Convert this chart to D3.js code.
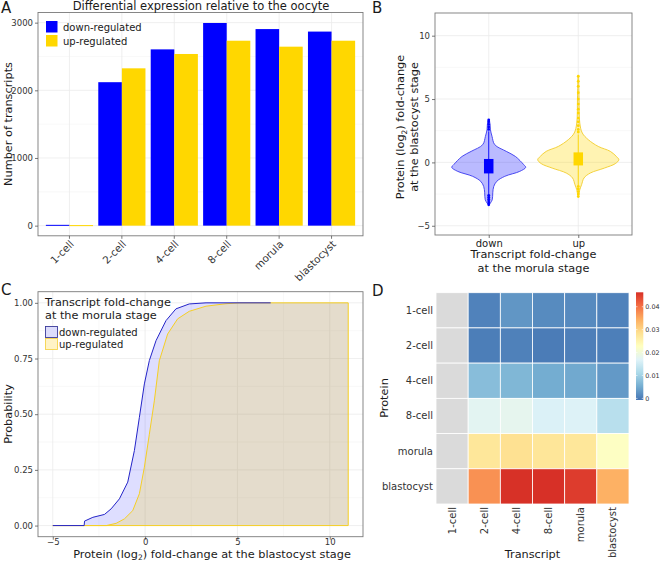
<!DOCTYPE html>
<meta charset="utf-8">
<head>
<style>
  body { margin: 0; background: #fff; }
  text { font-family: "DejaVu Sans", sans-serif; fill: #1a1a1a; }
  .tick-label { fill: #333; }
  .grid-major { stroke: #ebebeb; stroke-width: 0.8; }
  .grid-minor { stroke: #f4f4f4; stroke-width: 0.6; }
  .border { fill: none; stroke: #7a7a7a; stroke-width: 0.9; }
</style>
<script src="https://d3js.org/d3.v7.min.js"></script>
</head>
<body>
<div id="chart"></div>
<script>
// *** Data
var stages = ["1-cell", "2-cell", "4-cell", "8-cell", "morula", "blastocyst"];
var regulation = ["down-regulated", "up-regulated"];
var downCounts = [12, 2120, 2605, 2995, 2905, 2868];
var upCounts = [8, 2325, 2537, 2733, 2645, 2733];
var countTicks = [0, 1000, 2000, 3000];
var countMinor = [500, 1500, 2500];

// panel B: violin outlines (value, half width as fraction of a category step)
var groups = ["down", "up"];
var violinDownY = [3.37, 3.0, 2.58, 2.05, 1.4, 0.87, 0.47, -0.18, -0.39, -0.71, -1.1, -1.5, -1.9, -2.4, -2.95, -3.34];
var violinDownW = [0.005, 0.015, 0.019, 0.037, 0.067, 0.196, 0.298, 0.391, 0.413, 0.346, 0.179, 0.089, 0.056, 0.045, 0.039, 0.005];
var violinUpY = [6.8, 5.0, 3.1, 2.32, 1.79, 1.26, 0.87, 0.47, 0.21, -0.1, -0.45, -0.84, -1.23, -1.76, -2.16, -2.7];
var violinUpW = [0.004, 0.009, 0.017, 0.045, 0.112, 0.223, 0.358, 0.425, 0.453, 0.413, 0.291, 0.134, 0.064, 0.037, 0.017, 0.004];
var boxLow = [-0.87, -0.24];
var boxHigh = [0.27, 0.79];
var whiskerLow = [-2.55, -1.8];
var whiskerHigh = [2.45, 2.2];
var outliersDown = [2.6, 2.8, 3.0, 3.2, 3.35, -2.6, -2.75, -2.9, -3.05, -3.2, -3.35];
var outliersUp = [2.4, 2.6, 2.9, 3.2, 3.5, 3.9, 4.2, 4.6, 5.0, 5.5, 6.0, 6.4, 6.8, -1.9, -2.1, -2.3, -2.5, -2.7];
var foldTicks = [-5, 0, 5, 10];
var foldMinor = [-2.5, 2.5, 7.5];

// panel C: cumulative distributions
var ecdfDownX = [-5, -3.3, -3.28, -2.83, -2.2, -1.84, -1.39, -0.94, -0.58, -0.31, -0.04, 0.23, 0.59, 1.13, 1.67, 2.39, 3.3, 6.8];
var ecdfDownP = [0, 0, 0.02, 0.037, 0.05, 0.075, 0.12, 0.195, 0.337, 0.486, 0.636, 0.741, 0.83, 0.92, 0.973, 0.995, 1.0, 1.0];
var ecdfUpX = [-5, -2.1, -1.57, -1.12, -0.67, -0.31, -0.04, 0.23, 0.5, 0.77, 1.22, 1.76, 2.39, 3.3, 4.38, 5.1, 11];
var ecdfUpP = [0, 0, 0.01, 0.03, 0.067, 0.143, 0.262, 0.41, 0.56, 0.74, 0.86, 0.928, 0.962, 0.985, 0.996, 1.0, 1.0];
var probTicks = [0, 0.25, 0.5, 0.75, 1];
var probMinor = [0.125, 0.375, 0.625, 0.875];

// panel D: heatmap (rows = protein, cols = transcript), null = NA
var heatValues = [
  [null, 0.0007, 0.0028, 0.0016, 0.0015, 0.0007],
  [null, 0.0002, 0.0006, 0.0000, 0.0004, 0.0003],
  [null, 0.0073, 0.0065, 0.0052, 0.0048, 0.0031],
  [null, 0.0175, 0.0180, 0.0164, 0.0166, 0.0125],
  [null, 0.0274, 0.0284, 0.0276, 0.0274, 0.0224],
  [null, 0.0372, 0.0462, 0.0463, 0.0451, 0.0342]
];
var legendTicks = [0, 0.01, 0.02, 0.03, 0.04];
var rdylbu = ["#4575b4", "#74add1", "#abd9e9", "#e0f3f8", "#ffffbf", "#fee090", "#fdae61", "#f46d43", "#d73027"];

var blue = "#0000ff", gold = "#ffd700";
var titleSize = "11.3px";

var svg = d3.select("#chart").append("svg")
  .attr("width", 660)
  .attr("height", 562);

function panelLabel(t, x, y) {
  svg.append("text").attr("x", x).attr("y", y).style("font-size", "15px").text(t);
}

// *** A: bar chart
var ax = d3.scaleBand().domain(stages).range([38, 363]).paddingInner(0.1).paddingOuter(0.15);
var axInner = d3.scaleBand().domain(regulation).range([0, ax.bandwidth()]);
var ay = d3.scaleLinear().domain([-150, 3150]).range([235.8, 12.5]);

var gA = svg.append("g");
gA.selectAll(".gm").data(countMinor).enter().append("line").attr("class", "grid-minor")
  .attr("x1", 38).attr("x2", 363).attr("y1", ay).attr("y2", ay);
gA.selectAll(".gM").data(countTicks).enter().append("line").attr("class", "grid-major")
  .attr("x1", 38).attr("x2", 363).attr("y1", ay).attr("y2", ay);
gA.selectAll(".gx").data(stages).enter().append("line").attr("class", "grid-major")
  .attr("x1", function(d) { return ax(d) + ax.bandwidth() / 2; })
  .attr("x2", function(d) { return ax(d) + ax.bandwidth() / 2; })
  .attr("y1", 12.5).attr("y2", 235.8);

var barData = [];
stages.forEach(function(s, i) {
  barData.push({stage: s, reg: regulation[0], v: downCounts[i]});
  barData.push({stage: s, reg: regulation[1], v: upCounts[i]});
});
gA.selectAll(".bar").data(barData).enter().append("rect")
  .attr("x", function(d) { return ax(d.stage) + axInner(d.reg); })
  .attr("width", axInner.bandwidth())
  .attr("y", function(d) { return ay(d.v); })
  .attr("height", function(d) { return Math.max(1, ay(0) - ay(d.v)); })
  .style("fill", function(d) { return d.reg == regulation[0] ? blue : gold; });

gA.append("rect").attr("class", "border").attr("x", 38).attr("y", 12.5).attr("width", 325).attr("height", 223.3);
gA.append("g").attr("transform", "translate(38,0)")
  .call(d3.axisLeft(ay).tickValues(countTicks).tickFormat(d3.format("d")).tickSize(3).tickPadding(2));
var xAxisA = gA.append("g").attr("transform", "translate(0,235.8)")
  .call(d3.axisBottom(ax).tickSize(3).tickFormat(""));
xAxisA.selectAll(".tick").append("text").attr("class", "tick-label stage")
  .attr("transform", "translate(5,9) rotate(-45)")
  .style("text-anchor", "end")
  .text(function(d) { return d; });

gA.append("text").attr("x", 201).attr("y", 9.5).style("text-anchor", "middle").style("font-size", "11.5px")
  .text("Differential expression relative to the oocyte");
gA.append("text").attr("transform", "translate(12,124) rotate(-90)").style("text-anchor", "middle").style("font-size", titleSize)
  .text("Number of transcripts");

var legA = gA.append("g");
regulation.forEach(function(r, i) {
  legA.append("rect").attr("x", 46).attr("y", 21 + i * 14).attr("width", 11.5).attr("height", 11.5)
    .style("fill", i == 0 ? blue : gold);
  legA.append("text").attr("x", 63).attr("y", 30.5 + i * 14).style("font-size", "10px").text(r);
});
panelLabel("A", 1, 13);

// *** B: violins
var bx = d3.scalePoint().domain(groups).range([435, 632]).padding(0.6);
var bStep = bx.step();
var by = d3.scaleLinear().domain([-5.73, 11.79]).range([235, 13]);
var gB = svg.append("g");
gB.selectAll(".gm").data(foldMinor).enter().append("line").attr("class", "grid-minor")
  .attr("x1", 435).attr("x2", 632).attr("y1", by).attr("y2", by);
gB.selectAll(".gM").data(foldTicks).enter().append("line").attr("class", "grid-major")
  .attr("x1", 435).attr("x2", 632).attr("y1", by).attr("y2", by);
gB.selectAll(".gx").data(groups).enter().append("line").attr("class", "grid-major")
  .attr("x1", bx).attr("x2", bx).attr("y1", 13).attr("y2", 235);

var violins = [
  {g: "down", ys: violinDownY, ws: violinDownW, col: blue, fill: "rgba(0,0,255,0.27)", stroke: "#3a3aee", out: outliersDown},
  {g: "up", ys: violinUpY, ws: violinUpW, col: gold, fill: "rgba(255,215,0,0.3)", stroke: "#f2cd2a", out: outliersUp}
];
violins.forEach(function(v, i) {
  var cx = bx(v.g);
  var pts = v.ys.map(function(y, k) { return [y, v.ws[k]]; });
  var area = d3.area().curve(d3.curveCatmullRom.alpha(0.5))
    .y(function(d) { return by(d[0]); })
    .x0(function(d) { return cx - d[1] * bStep; })
    .x1(function(d) { return cx + d[1] * bStep; });
  gB.append("path").attr("d", area(pts))
    .style("fill", v.fill).style("stroke", v.stroke).style("stroke-width", 0.9);
  gB.append("line").attr("x1", cx).attr("x2", cx)
    .attr("y1", by(whiskerLow[i])).attr("y2", by(whiskerHigh[i]))
    .style("stroke", v.col).style("stroke-width", 0.9);
  gB.selectAll(".out" + i).data(v.out).enter().append("circle")
    .attr("cx", cx).attr("cy", by).attr("r", 1.4).style("fill", v.col);
  gB.append("rect").attr("x", cx - 0.053 * bStep).attr("width", 0.106 * bStep)
    .attr("y", by(boxHigh[i])).attr("height", by(boxLow[i]) - by(boxHigh[i]))
    .style("fill", v.col);
});
gB.append("rect").attr("class", "border").attr("x", 435).attr("y", 13).attr("width", 197).attr("height", 222);
gB.append("g").attr("transform", "translate(435,0)")
  .call(d3.axisLeft(by).tickValues(foldTicks).tickSize(3).tickPadding(2));
var xAxisB = gB.append("g").attr("transform", "translate(0,235)")
  .call(d3.axisBottom(bx).tickSize(3).tickPadding(2));
gB.append("text").attr("x", 533.5).attr("y", 258).style("text-anchor", "middle").style("font-size", titleSize)
  .text("Transcript fold-change");
gB.append("text").attr("x", 533.5).attr("y", 271.5).style("text-anchor", "middle").style("font-size", titleSize)
  .text("at the morula stage");
var bTitle = gB.append("text").attr("transform", "translate(404,127) rotate(-90)")
  .style("text-anchor", "middle").style("font-size", titleSize);
bTitle.append("tspan").text("Protein (log");
bTitle.append("tspan").attr("baseline-shift", "-2.5px").style("font-size", "7.5px").text("2");
bTitle.append("tspan").text(") fold-change");
gB.append("text").attr("transform", "translate(418,127) rotate(-90)")
  .style("text-anchor", "middle").style("font-size", titleSize).text("at the blastocyst stage");
panelLabel("B", 372, 13);

// *** C: cumulative distributions
var cx = d3.scaleLinear().domain([-5.8, 11.8]).range([38, 363]);
var cy = d3.scaleLinear().domain([-0.05, 1.05]).range([536.7, 291.7]);
var gC = svg.append("g");
gC.selectAll(".gm").data(probMinor).enter().append("line").attr("class", "grid-minor")
  .attr("x1", 38).attr("x2", 363).attr("y1", cy).attr("y2", cy);
gC.selectAll(".gmx").data(foldMinor).enter().append("line").attr("class", "grid-minor")
  .attr("x1", cx).attr("x2", cx).attr("y1", 291.7).attr("y2", 536.7);
gC.selectAll(".gM").data(probTicks).enter().append("line").attr("class", "grid-major")
  .attr("x1", 38).attr("x2", 363).attr("y1", cy).attr("y2", cy);
gC.selectAll(".gMx").data(foldTicks).enter().append("line").attr("class", "grid-major")
  .attr("x1", cx).attr("x2", cx).attr("y1", 291.7).attr("y2", 536.7);

var downPts = ecdfDownX.map(function(x, k) { return [x, ecdfDownP[k]]; });
var upPts = ecdfUpX.map(function(x, k) { return [x, ecdfUpP[k]]; });
var xMax = d3.max(ecdfUpX);
var areaC = d3.area().x(function(d) { return cx(d[0]); }).y0(cy(0)).y1(function(d) { return cy(d[1]); });
var lineC = d3.line().x(function(d) { return cx(d[0]); }).y(function(d) { return cy(d[1]); });

gC.append("path").attr("d", areaC(downPts.concat([[xMax, 1]])))
  .style("fill", "rgba(0,0,255,0.13)");
gC.append("path").attr("d", areaC(upPts))
  .style("fill", "rgba(255,215,0,0.2)");
gC.append("path").attr("d", lineC(upPts.concat([[xMax, 0], [ecdfUpX[0], 0]])))
  .style("fill", "none").style("stroke", "#f5cf25").style("stroke-width", 1);
gC.append("path").attr("d", lineC(downPts))
  .style("fill", "none").style("stroke", "#2424c8").style("stroke-width", 1);

gC.append("rect").attr("class", "border").attr("x", 38).attr("y", 291.7).attr("width", 325).attr("height", 245);
gC.append("g").attr("transform", "translate(38,0)")
  .call(d3.axisLeft(cy).tickValues(probTicks).tickFormat(d3.format(".2f")).tickSize(3).tickPadding(2));
var xAxisC = gC.append("g").attr("transform", "translate(0,536.7)")
  .call(d3.axisBottom(cx).tickValues(foldTicks).tickSize(3).tickPadding(0));
xAxisC.selectAll(".tick text").attr("y", 2.4);
gC.append("text").attr("transform", "translate(12,414) rotate(-90)").style("text-anchor", "middle").style("font-size", titleSize)
  .text("Probability");
var cTitle = gC.append("text").attr("x", 212).attr("y", 557.6).style("text-anchor", "middle").style("font-size", titleSize);
cTitle.append("tspan").text("Protein (log");
cTitle.append("tspan").attr("baseline-shift", "-2px").style("font-size", "7.5px").text("2");
cTitle.append("tspan").text(") fold-change at the blastocyst stage");

var legC = gC.append("g");
legC.append("text").attr("x", 45).attr("y", 305.5).style("font-size", titleSize).text("Transcript fold-change");
legC.append("text").attr("x", 45).attr("y", 319).style("font-size", titleSize).text("at the morula stage");
legC.append("rect").attr("x", 45.5).attr("y", 326.5).attr("width", 12).attr("height", 11)
  .style("fill", "#dcdcfb").style("stroke", "#3a3a9a").style("stroke-width", 0.9);
legC.append("rect").attr("x", 45.5).attr("y", 338.5).attr("width", 12).attr("height", 11)
  .style("fill", "#fff3c6").style("stroke", "#f5d34a").style("stroke-width", 0.9);
legC.append("text").attr("x", 59).attr("y", 335.5).style("font-size", "10px").text(regulation[0]);
legC.append("text").attr("x", 59).attr("y", 347.5).style("font-size", "10px").text(regulation[1]);
panelLabel("C", 1, 295);

// *** D: heatmap
var dx = d3.scaleBand().domain(stages).range([436, 629]);
var dy = d3.scaleBand().domain(stages).range([292.7, 504]);
var colMin = -0.0007;
var colMax = d3.max(heatValues, function(r) { return d3.max(r); });
var colour = d3.scaleLinear()
  .domain(rdylbu.map(function(c, i) { return colMin + (colMax - colMin) * i / (rdylbu.length - 1); }))
  .range(rdylbu);
var cells = [];
heatValues.forEach(function(row, r) {
  row.forEach(function(v, c) { cells.push({row: stages[r], col: stages[c], v: v}); });
});
var gD = svg.append("g");
gD.selectAll(".cell").data(cells).enter().append("rect")
  .attr("x", function(d) { return dx(d.col); })
  .attr("y", function(d) { return dy(d.row); })
  .attr("width", dx.bandwidth()).attr("height", dy.bandwidth())
  .style("fill", function(d) { return d.v == null ? "#dadada" : colour(d.v); })
  .style("stroke", "#fff").style("stroke-width", 0.8);

gD.selectAll(".rl").data(stages).enter().append("text")
  .attr("x", 433).attr("y", function(d) { return dy(d) + dy.bandwidth() / 2; })
  .attr("dy", "0.35em").style("text-anchor", "end").style("font-size", "10px").style("fill", "#333")
  .text(function(d) { return d; });
gD.selectAll(".cl").data(stages).enter().append("text")
  .attr("transform", function(d) { return "translate(" + (dx(d) + dx.bandwidth() / 2) + ",507) rotate(-90)"; })
  .attr("dy", "0.35em").style("text-anchor", "end").style("font-size", "10px").style("fill", "#333")
  .text(function(d) { return d; });
gD.append("text").attr("x", 532.5).attr("y", 557.6).style("text-anchor", "middle").style("font-size", titleSize)
  .text("Transcript");
gD.append("text").attr("transform", "translate(388,398) rotate(-90)").style("text-anchor", "middle").style("font-size", titleSize)
  .text("Protein");

// colour bar
var barY = d3.scaleLinear().domain([colMin, colMax]).range([400, 292.3]);
var grad = svg.append("defs").append("linearGradient").attr("id", "cbar")
  .attr("x1", 0).attr("x2", 0).attr("y1", 1).attr("y2", 0);
rdylbu.forEach(function(c, i) {
  grad.append("stop").attr("offset", i / (rdylbu.length - 1)).attr("stop-color", c);
});
gD.append("rect").attr("x", 636).attr("y", barY(colMax)).attr("width", 7.3).attr("height", barY(colMin) - barY(colMax))
  .style("fill", "url(#cbar)");
gD.selectAll(".lt").data(legendTicks).enter().append("text")
  .attr("x", 645.3).attr("y", barY).attr("dy", "0.35em").style("font-size", "6.4px").style("fill", "#333")
  .text(function(d) { return d == 0 ? "0" : d3.format(".2f")(d); });
gD.selectAll(".ltk").data(legendTicks).enter().append("line")
  .attr("x1", 636).attr("x2", 637.5).attr("y1", barY).attr("y2", barY).style("stroke", "#fff").style("stroke-width", 0.6);
gD.selectAll(".ltk2").data(legendTicks).enter().append("line")
  .attr("x1", 641.8).attr("x2", 643.3).attr("y1", barY).attr("y2", barY).style("stroke", "#fff").style("stroke-width", 0.6);
panelLabel("D", 372, 296);

// axis styling, ggplot-like
svg.selectAll(".domain").remove();
svg.selectAll(".tick line").style("stroke", "#555").style("stroke-width", 0.8);
svg.selectAll(".tick text").style("font-family", "DejaVu Sans").style("font-size", "8.5px").style("fill", "#333");
xAxisB.selectAll(".tick text").style("font-size", "10px").style("fill", "#1a1a1a");
xAxisA.selectAll(".tick text.stage").style("font-size", "10.3px");
</script>
</body>
